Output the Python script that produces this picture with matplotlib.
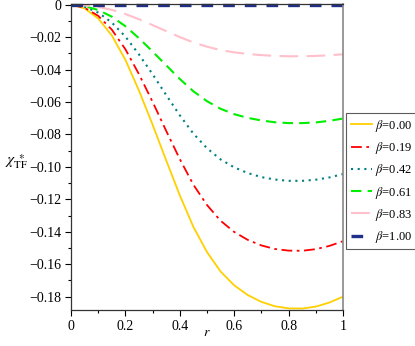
import matplotlib
matplotlib.use("Agg")
import matplotlib.pyplot as plt
from matplotlib.ticker import MultipleLocator

plt.rcParams['font.family'] = ['Liberation Serif', 'DejaVu Serif']
plt.rcParams['mathtext.fontset'] = 'stix'

# radial coordinate
r = [0, 0.05, 0.1, 0.15, 0.2, 0.25, 0.3, 0.35, 0.4, 0.45, 0.5,
     0.55, 0.6, 0.65, 0.7, 0.75, 0.8, 0.85, 0.9, 0.95, 1.0]

# chi_TF* for each beta
chi_000 = [0, -0.0023, -0.0085, -0.0190, -0.0340, -0.0530, -0.0740, -0.0960, -0.1175, -0.1370, -0.1525,
           -0.1645, -0.1730, -0.1790, -0.1832, -0.1859, -0.1872, -0.1873, -0.1861, -0.1836, -0.1800]
chi_019 = [0, -0.0019, -0.0069, -0.0154, -0.0275, -0.0429, -0.0599, -0.0778, -0.0952, -0.1110, -0.1235,
           -0.1332, -0.1401, -0.1450, -0.1484, -0.1506, -0.1516, -0.1517, -0.1507, -0.1487, -0.1458]
chi_042 = [0, -0.0013, -0.0049, -0.0110, -0.0197, -0.0307, -0.0429, -0.0557, -0.0682, -0.0795, -0.0885,
           -0.0954, -0.1003, -0.1038, -0.1063, -0.1078, -0.1086, -0.1086, -0.1079, -0.1065, -0.1044]
chi_061 = [0, -0.0009, -0.0033, -0.0074, -0.0133, -0.0207, -0.0289, -0.0374, -0.0458, -0.0534, -0.0595,
           -0.0642, -0.0675, -0.0698, -0.0714, -0.0725, -0.0730, -0.0730, -0.0726, -0.0716, -0.0702]
chi_083 = [0, -0.0004, -0.0014, -0.0032, -0.0058, -0.0090, -0.0126, -0.0163, -0.0200, -0.0233, -0.0259,
           -0.0280, -0.0294, -0.0304, -0.0311, -0.0316, -0.0318, -0.0318, -0.0316, -0.0312, -0.0306]
chi_100 = [0] * 21

beta_labels = ['0.00', '0.19', '0.42', '0.61', '0.83', '1.00']

xticks = [0, 0.2, 0.4, 0.6, 0.8, 1]
xtick_labels = ['0', '0.2', '0.4', '0.6', '0.8', '1']
yticks = [0, -0.02, -0.04, -0.06, -0.08, -0.10, -0.12, -0.14, -0.16, -0.18]
ytick_labels = ['0', '\u22120.02', '\u22120.04', '\u22120.06', '\u22120.08', '\u22120.10',
                '\u22120.12', '\u22120.14', '\u22120.16', '\u22120.18']

fig = plt.figure(figsize=(4.15, 3.46), dpi=100)
ax = fig.add_axes([71/415, 1-310/346, (343-71)/415, (310-4)/346])

ax.plot(r, chi_000, color='#FFD000', lw=1.3, ls='-', label=r'$\beta$=' + beta_labels[0])
ax.plot(r, chi_019, color='#FF0000', lw=1.3, ls=(0, (6, 2.5, 1.5, 2.5)), label=r'$\beta$=' + beta_labels[1])
ax.plot(r, chi_042, color='#008080', lw=1.5, ls=(0, (1, 2.2)), label=r'$\beta$=' + beta_labels[2])
ax.plot(r, chi_061, color='#00EE00', lw=1.5, ls=(0, (5, 3)), label=r'$\beta$=' + beta_labels[3])
ax.plot(r, chi_083, color='#FFC0CB', lw=1.5, ls=(0, (9, 4)), label=r'$\beta$=' + beta_labels[4])
ax.plot(r, chi_100, color='#1F2F8A', lw=2.4, ls=(0, (3.5, 3)), label=r'$\beta$=' + beta_labels[5],
        clip_on=False)

ax.set_xlim(0, 1)
ax.set_ylim(-0.1882, 0.0004)
ax.set_xticks(xticks)
ax.set_xticklabels(xtick_labels)
ax.set_yticks(yticks)
ax.set_yticklabels(ytick_labels)
ax.xaxis.set_minor_locator(MultipleLocator(0.1))
ax.yaxis.set_minor_locator(MultipleLocator(0.01))
ax.tick_params(which='major', direction='out', length=4, width=0.8, labelsize=10, pad=3)
ax.tick_params(which='minor', direction='out', length=2.5, width=0.8)
ax.tick_params(top=False, right=False)

for s in ['left', 'bottom', 'top']:
    ax.spines[s].set_color('#333333')
    ax.spines[s].set_linewidth(0.9)
ax.spines['right'].set_color('#888888')
ax.spines['right'].set_linewidth(1.2)

fig.text(71/415 + 0.5 * (343-71)/415, 1-333/346, r'$r$', ha='center', va='center', fontsize=10)
fig.text(5/415, 1-162/346, r'$\chi_{\mathrm{TF}}^{\ \ast}$', ha='left', va='center', fontsize=11)

leg = ax.legend(loc='center left', bbox_to_anchor=(1.012, 0.42), fontsize=9,
                frameon=True, fancybox=False, edgecolor='#333333', handlelength=1.7,
                handletextpad=0.25, borderpad=0.35, labelspacing=0.5, borderaxespad=0)
leg.get_frame().set_linewidth(0.8)

fig.savefig('out.png', dpi=100)
